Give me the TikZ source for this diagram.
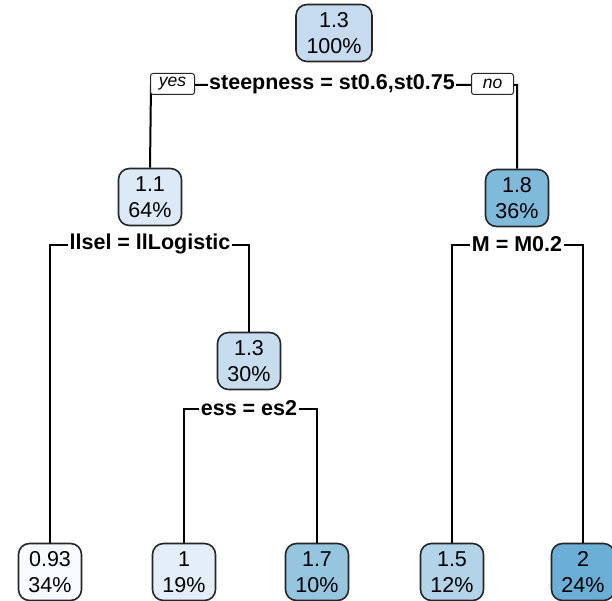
\documentclass[tikz,border=0pt]{standalone}
\usepackage{fontspec}
\setmainfont{Liberation Sans}
\definecolor{c100}{HTML}{C6DBEF}
\definecolor{c64}{HTML}{DCE9F6}
\definecolor{c36}{HTML}{7FBADB}
\definecolor{c30}{HTML}{C8DCF0}
\definecolor{c34}{HTML}{F7FBFF}
\definecolor{c19}{HTML}{E3EEF9}
\definecolor{c10}{HTML}{96C5E0}
\definecolor{c12}{HTML}{B2D3E8}
\definecolor{c24}{HTML}{6BAED6}
\begin{document}
\begin{tikzpicture}[x=1pt,y=-1pt,
  box/.style={draw=black!85, line width=1.6pt, rounded corners=11pt, minimum width=53pt,
    minimum height=57pt, align=center, inner xsep=10pt, inner ysep=0pt,
    font=\fontsize{21.5}{26}\selectfont},
  lbl/.style={font=\bfseries\fontsize{21.5}{24}\selectfont, inner xsep=1.5pt, inner ysep=0pt, fill=white},
  yn/.style={draw=black!85, line width=1pt, rounded corners=2.5pt,
    font=\itshape\fontsize{17.5}{19}\selectfont, inner sep=0pt, minimum height=21pt, fill=white},
  conn/.style={line width=2pt, black}]
\useasboundingbox (0,0) rectangle (612,601);

\coordinate (rL) at (151,85);
\coordinate (rR) at (517,85);
\coordinate (aL) at (50,245);
\coordinate (aR) at (249,245);
\coordinate (bL) at (452,245);
\coordinate (bR) at (583,245);
\coordinate (cL) at (184,409);
\coordinate (cR) at (317,409);

\node[box, fill=c100, minimum width=76pt] (root) at (334,33) {1.3\\100\%};
\node[box, fill=c64] (n11) at (150,197) {1.1\\64\%};
\node[box, fill=c36] (n18) at (517,198) {1.8\\36\%};
\node[box, fill=c30] (n13) at (249,361) {1.3\\30\%};
\node[box, fill=c34] (l1) at (50,572) {0.93\\34\%};
\node[box, fill=c19] (l2) at (184,572) {1\\19\%};
\node[box, fill=c10] (l3) at (317,572) {1.7\\10\%};
\node[box, fill=c12] (l4) at (452,572) {1.5\\12\%};
\node[box, fill=c24] (l5) at (583,572) {2\\24\%};

\draw[conn] (n11.north) -- (rL) -- (rR) -- (n18.north);
\draw[conn] (l1.north) -- (aL) -- (aR) -- (n13.north);
\draw[conn] (l4.north) -- (bL) -- (bR) -- (l5.north);
\draw[conn] (l2.north) -- (cL) -- (cR) -- (l3.north);

\node[lbl] (s0) at (332,84) {steepness = st0.6,st0.75};
\node[lbl] (s1) at (150,244) {llsel = llLogistic};
\node[lbl] (s2) at (517,244) {M = M0.2};
\node[lbl] (s3) at (249,408) {ess = es2};

\node[yn, minimum width=44pt, anchor=west] (yes) at (150,84) {yes};
\node[yn, minimum width=42pt, anchor=east] (no) at (514,84) {no};
\end{tikzpicture}
\end{document}
